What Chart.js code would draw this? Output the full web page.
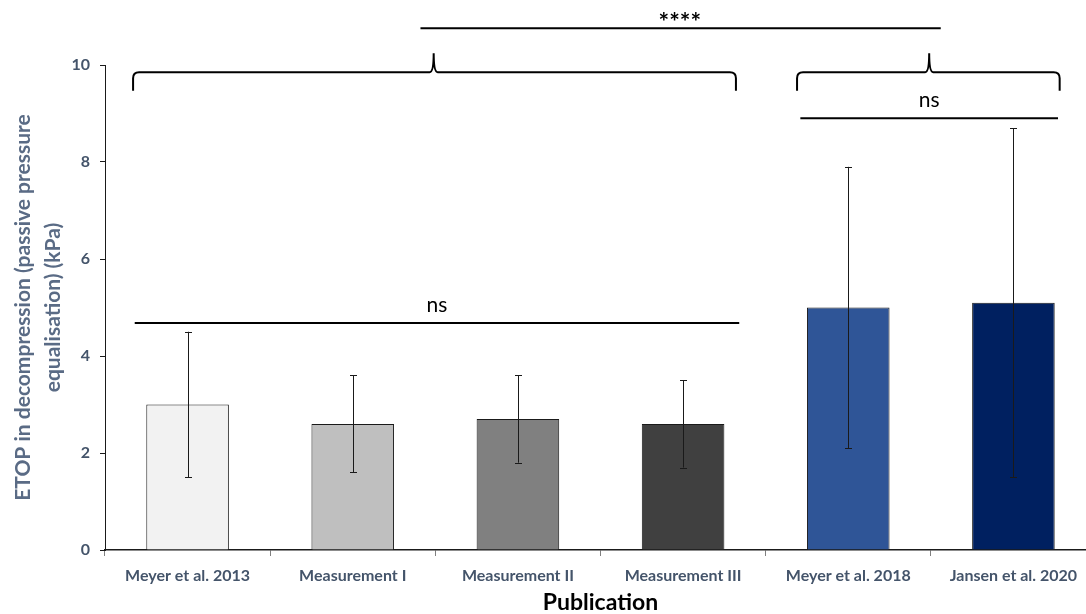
<!DOCTYPE html>
<html>
<head>
<meta charset="utf-8">
<script src="https://cdn.jsdelivr.net/npm/chart.js@4"></script>
<style>
html,body{margin:0;padding:0;background:#fff;overflow:hidden;}
#wrap{position:relative;width:1096px;height:614px;}
</style>
</head>
<body>
<div id="wrap"><canvas id="c"></canvas></div>
<script>
const categories = ['Meyer et al. 2013','Measurement I','Measurement II','Measurement III','Meyer et al. 2018','Jansen et al. 2020'];
const means = [3.0, 2.6, 2.7, 2.6, 5.0, 5.1];
const errLow = [1.5, 1.6, 1.8, 1.7, 2.1, 1.5];
const errHigh = [4.5, 3.6, 3.6, 3.5, 7.9, 8.7];
const barColors = ['#f2f2f2','#bfbfbf','#808080','#404040','#2f5597','#002060'];
const yTicks = [0, 2, 4, 6, 8, 10];

// significance annotations (in category-index / value units)
const sigLines = [
  {x0: -0.32, x1: 3.34, y: 4.68, label: 'ns', bold: false},
  {x0: 3.71, x1: 5.27, y: 8.9, label: 'ns', bold: false},
  {x0: 1.41, x1: 4.56, y: 10.76, label: '****', bold: true, labelX: 2.98}
];
const braces = [
  {x0: -0.33, x1: 3.32, mid: 1.49, yEnd: 9.47, yBar: 9.85, yPeak: 10.24},
  {x0: 3.69, x1: 5.28, mid: 4.49, yEnd: 9.47, yBar: 9.85, yPeak: 10.24}
];

const FONT = 'Lato, "Open Sans", sans-serif';
const labelColor = '#44546a';

const annotPlugin = {
  id: 'annot',
  afterDatasetsDraw(chart) {
    const ctx = chart.ctx;
    const xs = chart.scales.x, ys = chart.scales.y;
    ctx.save();
    // error bars
    ctx.strokeStyle = '#1a1a1a';
    ctx.lineWidth = 1;
    for (let i = 0; i < means.length; i++) {
      const x = Math.round(xs.getPixelForValue(i)) + 0.5;
      const yl = ys.getPixelForValue(errLow[i]);
      const yh = ys.getPixelForValue(errHigh[i]);
      ctx.beginPath();
      ctx.moveTo(x, yl); ctx.lineTo(x, yh);
      ctx.moveTo(x - 3.5, Math.round(yl) + 0.5); ctx.lineTo(x + 3.5, Math.round(yl) + 0.5);
      ctx.moveTo(x - 3.5, Math.round(yh) + 0.5); ctx.lineTo(x + 3.5, Math.round(yh) + 0.5);
      ctx.stroke();
    }
    // significance lines
    ctx.strokeStyle = '#000';
    ctx.fillStyle = '#000';
    ctx.lineWidth = 2;
    ctx.textAlign = 'center';
    ctx.textBaseline = 'alphabetic';
    for (const s of sigLines) {
      const x0 = xs.getPixelForValue(s.x0), x1 = xs.getPixelForValue(s.x1);
      const y = ys.getPixelForValue(s.y);
      ctx.beginPath(); ctx.moveTo(x0, y); ctx.lineTo(x1, y); ctx.stroke();
      const lx = s.labelX !== undefined ? xs.getPixelForValue(s.labelX) : (x0 + x1) / 2;
      if (s.bold) {
        ctx.font = 'bold 25px ' + FONT;
        ctx.fillText(s.label, lx, y + 3);
      } else {
        ctx.font = '21px ' + FONT;
        ctx.fillText(s.label, lx, y - 11);
      }
    }
    // braces
    for (const b of braces) {
      const x0 = xs.getPixelForValue(b.x0), x1 = xs.getPixelForValue(b.x1), xm = xs.getPixelForValue(b.mid);
      const ye = ys.getPixelForValue(b.yEnd), yb = ys.getPixelForValue(b.yBar), yp = ys.getPixelForValue(b.yPeak);
      ctx.beginPath();
      ctx.moveTo(x0, ye);
      ctx.lineTo(x0, yb + 6);
      ctx.quadraticCurveTo(x0, yb, x0 + 6, yb);
      ctx.lineTo(xm - 4, yb);
      ctx.quadraticCurveTo(xm, yb, xm, yp);
      ctx.quadraticCurveTo(xm, yb, xm + 4, yb);
      ctx.lineTo(x1 - 6, yb);
      ctx.quadraticCurveTo(x1, yb, x1, yb + 6);
      ctx.lineTo(x1, ye);
      ctx.stroke();
    }
    ctx.restore();
  }
};

new Chart(document.getElementById('c'), {
  type: 'bar',
  data: {
    labels: categories,
    datasets: [{
      data: means,
      backgroundColor: barColors,
      borderColor: '#1a1a1a',
      borderWidth: 1,
      categoryPercentage: 1.0,
      barPercentage: 0.5
    }]
  },
  options: {
    responsive: true,
    maintainAspectRatio: false,
    animation: false,
    layout: {padding: {top: 65, left: 0, right: 0, bottom: 0}},
    plugins: {legend: {display: false}, tooltip: {enabled: false}},
    scales: {
      x: {
        grid: {display: true, drawOnChartArea: false, offset: true, tickLength: 6, color: '#808080'},
        border: {display: true, color: '#1a1a1a', width: 1.5},
        ticks: {color: labelColor, font: {family: FONT, size: 16, weight: 'bold'}, padding: 10, maxRotation: 0},
        title: {display: true, text: 'Publication', color: '#000', font: {family: FONT, size: 23, weight: 'bold', lineHeight: 1.0}, padding: {top: 0, bottom: 0}},
        afterFit(scale) { scale.height = 64; }
      },
      y: {
        min: 0, max: 10,
        afterBuildTicks(scale) { scale.ticks = yTicks.map(v => ({value: v})); },
        grid: {display: true, drawOnChartArea: false, tickLength: 5, color: '#1a1a1a'},
        border: {display: true, color: '#1a1a1a', width: 1},
        ticks: {color: labelColor, font: {family: FONT, size: 16, weight: 'bold'}, padding: 10},
        title: {display: true, text: ['ETOP in decompression (passive pressure', 'equalisation) (kPa)'], color: '#5a6b85', font: {family: FONT, size: 21, weight: 'bold', lineHeight: 1.4}, padding: {top: 9, bottom: 0}},
        afterFit(scale) { scale.width = 105; }
      }
    }
  },
  plugins: [annotPlugin]
});
</script>
</body>
</html>
